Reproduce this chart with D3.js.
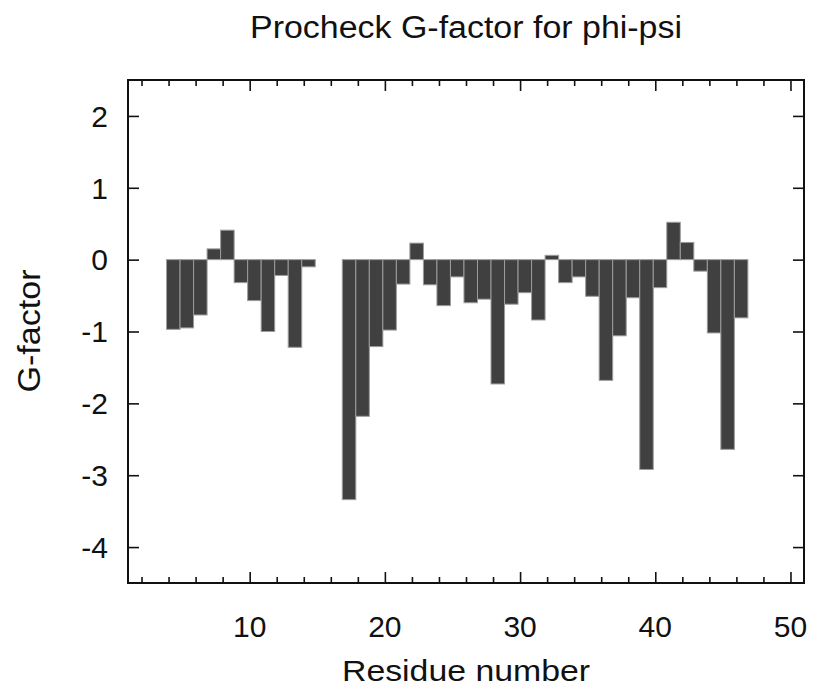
<!DOCTYPE html>
<html>
<head>
<meta charset="utf-8">
<script src="https://cdn.jsdelivr.net/npm/d3@7"></script>
<style>
  body { margin: 0; background: #fff; }
  text { font-family: "Liberation Sans", Arial, Helvetica, sans-serif; fill: #111; }
</style>
</head>
<body>
<svg id="chart"></svg>
<script>
// G-factor per residue, residues 15-16 have no value
const residues = [4, 5, 6, 7, 8, 9, 10, 11, 12, 13, 14,
  17, 18, 19, 20, 21, 22, 23, 24, 25, 26, 27, 28, 29, 30, 31,
  32, 33, 34, 35, 36, 37, 38, 39, 40, 41, 42, 43, 44, 45, 46]
const gFactor = [-0.97, -0.95, -0.77, 0.15, 0.41, -0.32, -0.57, -1.0, -0.22, -1.22, -0.10,
  -3.34, -2.18, -1.21, -0.98, -0.34, 0.23, -0.35, -0.64, -0.24, -0.60, -0.55, -1.73, -0.62, -0.46, -0.84,
  0.06, -0.32, -0.24, -0.51, -1.68, -1.06, -0.53, -2.92, -0.39, 0.52, 0.24, -0.16, -1.02, -2.64, -0.81]

const yTicks = [-4, -3, -2, -1, 0, 1, 2]
const xMajor = [10, 20, 30, 40, 50]
const xMinor = [2, 4, 6, 8, 12, 14, 16, 18, 22, 24, 26, 28, 32, 34, 36, 38, 42, 44, 46, 48]

const title = "Procheck G-factor for phi-psi"
const xTitle = "Residue number"
const yTitle = "G-factor"

width = 822
height = 690
margin = ({top: 80, right: 18, bottom: 107, left: 128})

let x = d3.scaleLinear()
  .domain([1, 51])
  .range([margin.left, width - margin.right])

let y = d3.scaleLinear()
  .domain([-4.5, 2.5])
  .range([height - margin.bottom, margin.top])

const svg = d3.select("#chart")
  .attr("width", width)
  .attr("height", height)

const data = residues.map((r, i) => ({res: r, g: gFactor[i]}))

// bars sit slightly left of the residue number, one unit wide
const barShift = -0.15
svg.append("g")
  .attr("fill", "#404040")
  .attr("stroke", "#9c9c9c")
  .attr("stroke-width", 1)
  .selectAll("rect")
  .data(data)
  .join("rect")
    .attr("x", d => x(d.res + barShift))
    .attr("width", d => x(d.res + barShift + 1) - x(d.res + barShift))
    .attr("y", d => y(Math.max(0, d.g)))
    .attr("height", d => Math.abs(y(d.g) - y(0)))

// inward ticks on all four sides
const ph = height - margin.top - margin.bottom
const pw = width - margin.left - margin.right

const tickAxis = (axis, vals, size, tr) => svg.append("g")
  .attr("transform", tr)
  .call(axis.tickValues(vals).tickSize(-size).tickFormat(""))
  .call(g => g.select(".domain").remove())
  .call(g => g.selectAll(".tick line").attr("stroke", "#111").attr("stroke-width", 1.6))

tickAxis(d3.axisBottom(x), xMajor, 11, `translate(0,${height - margin.bottom})`)
tickAxis(d3.axisBottom(x), xMinor, 6, `translate(0,${height - margin.bottom})`)
tickAxis(d3.axisTop(x), xMajor, 11, `translate(0,${margin.top})`)
tickAxis(d3.axisTop(x), xMinor, 6, `translate(0,${margin.top})`)
tickAxis(d3.axisLeft(y), yTicks, 11, `translate(${margin.left},0)`)
tickAxis(d3.axisRight(y), yTicks, 11, `translate(${width - margin.right},0)`)

// tick labels
svg.append("g")
  .selectAll("text")
  .data(xMajor)
  .join("text")
    .attr("x", d => x(d))
    .attr("y", 637)
    .attr("text-anchor", "middle")
    .attr("font-size", 30)
    .text(d => d)

svg.append("g")
  .selectAll("text")
  .data(yTicks)
  .join("text")
    .attr("x", 108)
    .attr("y", d => y(d))
    .attr("dy", "0.36em")
    .attr("text-anchor", "end")
    .attr("font-size", 30)
    .text(d => d)

// frame
svg.append("rect")
  .attr("x", margin.left)
  .attr("y", margin.top)
  .attr("width", pw)
  .attr("height", ph)
  .attr("fill", "none")
  .attr("stroke", "#111")
  .attr("stroke-width", 2)

svg.append("text")
  .attr("x", 466)
  .attr("y", 38)
  .attr("text-anchor", "middle")
  .attr("font-size", 31)
  .attr("textLength", 432)
  .attr("lengthAdjust", "spacingAndGlyphs")
  .text(title)

svg.append("text")
  .attr("x", 466)
  .attr("y", 681)
  .attr("text-anchor", "middle")
  .attr("font-size", 30)
  .attr("textLength", 248)
  .attr("lengthAdjust", "spacingAndGlyphs")
  .text(xTitle)

svg.append("text")
  .attr("transform", "translate(40,331) rotate(-90)")
  .attr("text-anchor", "middle")
  .attr("font-size", 31)
  .attr("textLength", 123)
  .attr("lengthAdjust", "spacingAndGlyphs")
  .text(yTitle)
</script>
</body>
</html>
